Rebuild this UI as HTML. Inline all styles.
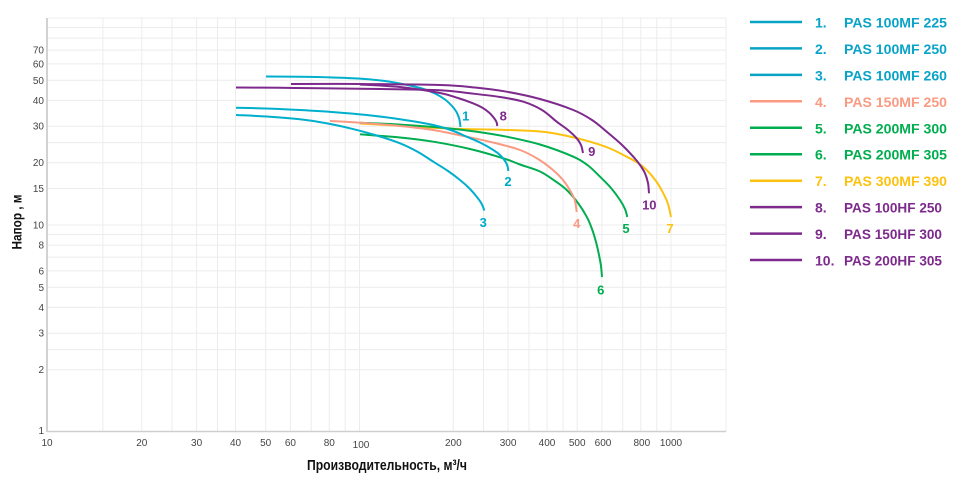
<!DOCTYPE html>
<html>
<head>
<meta charset="utf-8">
<style>
html,body{margin:0;padding:0;background:#fff;}
body{width:967px;height:484px;overflow:hidden;}
svg{display:block;}
text{font-family:"Liberation Sans","DejaVu Sans",sans-serif;}
.tk{font-size:10px;fill:#444;}
.lb{font-size:13px;font-weight:bold;text-anchor:middle;}
.lg{font-size:14px;font-weight:bold;}
</style>
</head>
<body>
<svg id="chart" width="967" height="484" viewBox="0 0 967 484" xmlns="http://www.w3.org/2000/svg">
  <!-- grid -->
  <g stroke="#ececec" stroke-width="1" fill="none">
    <line x1="48" y1="18" x2="726" y2="18"/>
    <line x1="48" y1="27.5" x2="726" y2="27.5"/>
    <line x1="48" y1="38.1" x2="726" y2="38.1"/>
    <line x1="48" y1="50.1" x2="726" y2="50.1"/>
    <line x1="48" y1="63.9" x2="726" y2="63.9"/>
    <line x1="48" y1="80.3" x2="726" y2="80.3"/>
    <line x1="48" y1="100.4" x2="726" y2="100.4"/>
    <line x1="48" y1="126.2" x2="726" y2="126.2"/>
    <line x1="48" y1="142.6" x2="726" y2="142.6"/>
    <line x1="48" y1="162.7" x2="726" y2="162.7"/>
    <line x1="48" y1="188.5" x2="726" y2="188.5"/>
    <line x1="48" y1="225" x2="726" y2="225"/>
    <line x1="48" y1="234.5" x2="726" y2="234.5"/>
    <line x1="48" y1="245.1" x2="726" y2="245.1"/>
    <line x1="48" y1="257.1" x2="726" y2="257.1"/>
    <line x1="48" y1="270.9" x2="726" y2="270.9"/>
    <line x1="48" y1="287.3" x2="726" y2="287.3"/>
    <line x1="48" y1="307.4" x2="726" y2="307.4"/>
    <line x1="48" y1="333.2" x2="726" y2="333.2"/>
    <line x1="48" y1="349.6" x2="726" y2="349.6"/>
    <line x1="48" y1="369.7" x2="726" y2="369.7"/>

    <line x1="102.9" y1="18" x2="102.9" y2="432"/>
    <line x1="141.8" y1="18" x2="141.8" y2="432"/>
    <line x1="172" y1="18" x2="172" y2="432"/>
    <line x1="196.6" y1="18" x2="196.6" y2="432"/>
    <line x1="217.5" y1="18" x2="217.5" y2="432"/>
    <line x1="235.5" y1="18" x2="235.5" y2="432"/>
    <line x1="265.7" y1="18" x2="265.7" y2="432"/>
    <line x1="290.4" y1="18" x2="290.4" y2="432"/>
    <line x1="311.2" y1="18" x2="311.2" y2="432"/>
    <line x1="329.3" y1="18" x2="329.3" y2="432"/>
    <line x1="345.2" y1="18" x2="345.2" y2="432"/>
    <line x1="359.5" y1="18" x2="359.5" y2="432"/>
    <line x1="453.3" y1="18" x2="453.3" y2="432"/>
    <line x1="483.5" y1="18" x2="483.5" y2="432"/>
    <line x1="508.1" y1="18" x2="508.1" y2="432"/>
    <line x1="529" y1="18" x2="529" y2="432"/>
    <line x1="547" y1="18" x2="547" y2="432"/>
    <line x1="563" y1="18" x2="563" y2="432"/>
    <line x1="577.2" y1="18" x2="577.2" y2="432"/>
    <line x1="601.9" y1="18" x2="601.9" y2="432"/>
    <line x1="622.7" y1="18" x2="622.7" y2="432"/>
    <line x1="640.8" y1="18" x2="640.8" y2="432"/>
    <line x1="656.7" y1="18" x2="656.7" y2="432"/>
    <line x1="671" y1="18" x2="671" y2="432"/>
    <line x1="726" y1="18" x2="726" y2="432"/>
  </g>
  <!-- axes -->
  <line x1="47" y1="18" x2="47" y2="432" stroke="#c4c4c4" stroke-width="1.5"/>
  <line x1="47" y1="431.5" x2="726" y2="431.5" stroke="#cfcfcf" stroke-width="1.5"/>

  <!-- y tick labels -->
  <g class="tk" text-anchor="end">
    <text x="44" y="53.6">70</text>
    <text x="44" y="67.4">60</text>
    <text x="44" y="83.8">50</text>
    <text x="44" y="103.9">40</text>
    <text x="44" y="129.7">30</text>
    <text x="44" y="166.2">20</text>
    <text x="44" y="192">15</text>
    <text x="44" y="228.5">10</text>
    <text x="44" y="248.6">8</text>
    <text x="44" y="274.4">6</text>
    <text x="44" y="290.8">5</text>
    <text x="44" y="310.9">4</text>
    <text x="44" y="336.7">3</text>
    <text x="44" y="373.2">2</text>
    <text x="44" y="434">1</text>
  </g>
  <!-- x tick labels -->
  <g class="tk" text-anchor="middle">
    <text x="47" y="446">10</text>
    <text x="141.8" y="446">20</text>
    <text x="196.6" y="446">30</text>
    <text x="235.5" y="446">40</text>
    <text x="265.7" y="446">50</text>
    <text x="290.4" y="446">60</text>
    <text x="329.3" y="446">80</text>
    <text x="361" y="448">100</text>
    <text x="453.3" y="446">200</text>
    <text x="508.1" y="446">300</text>
    <text x="547" y="446">400</text>
    <text x="577.2" y="446">500</text>
    <text x="603" y="446">600</text>
    <text x="641.8" y="446">800</text>
    <text x="671" y="446">1000</text>
  </g>

  <!-- axis titles -->
  <text x="387" y="470" font-size="15" font-weight="bold" fill="#111" text-anchor="middle" textLength="160" lengthAdjust="spacingAndGlyphs">Производительность, м³/ч</text>
  <text transform="translate(21.5,222) rotate(-90)" font-size="14" font-weight="bold" fill="#111" text-anchor="middle" textLength="55" lengthAdjust="spacingAndGlyphs">Напор , м</text>

  <!-- curves -->
  <g id="curves" fill="none" stroke-width="2" stroke-linejoin="round" stroke-linecap="butt">
    <polyline stroke="#fdc20f" points="360,123.5 400,125.8 453,128.8 500,129.8 540,131.5 565,135.5 590,141.7 610,148.5 626.7,156.7 638,163 646.7,170 656,181 663.3,193.3 668,204 671,217"/>
    <polyline stroke="#00ad4f" points="360,122.7 400,124.6 440,127.5 475,131.5 506.7,136.7 540,144.5 573.3,156.7 588,165.5 600,176.7 611,188 620,200 625,209 627.3,217"/>
    <polyline stroke="#00ad4f" points="360,134.3 400,137.5 433.3,141.7 470,149 503.3,158.3 520,164.5 540,171.5 555,181 566.7,190 578,203 586.7,216.7 592,229 596,242 599,255 601,266 602,277"/>
    <polyline stroke="#f99a82" points="330,121 360,122.7 400,126 433,130 466.7,136.7 495,143 520,150 538,159 553,170 563,180 571,192 575,201 576.7,212"/>
    <polyline stroke="#00afcc" points="266,76.5 300,76.8 330,77.4 360,78.6 385,81 405,84.5 422,88.5 435,93.5 445,99.5 452,106 456.5,112 459.3,119 460.5,127"/>
    <polyline stroke="#00afcc" points="236,107.7 270,108.6 300,110 335,112.2 366.7,115 400,119.3 433.3,125 452,130.5 466.7,136.7 481,143 493.3,150 500,155 505,161 507.5,166 508.3,171"/>
    <polyline stroke="#00afcc" points="236,115 270,116.7 300,119.3 325,123 350,128.3 375,135 400,143.3 418,152 433.3,161.7 448,171 460,180 469,188 476.7,196.7 481.5,203.5 484.3,210.5"/>
    <polyline stroke="#7d2a8c" points="360,84.5 400,87 440,93 458,98 473,103.3 482,107.5 489,112.5 494,118 496.5,122 497.3,126"/>
    <polyline stroke="#7d2a8c" points="236,87.5 280,87.8 320,88.3 380,89 440,90.2 470,93.3 500,97 523.3,101.7 542,110 556.7,121.7 568,130 576.7,138.3 581,145 583,153"/>
    <polyline stroke="#7d2a8c" points="291,84 360,84 440,85 475,87.5 506.7,91.7 540,99 573.3,110 592,120 606.7,131.7 621,144 633.3,156.7 640,165 645,173.3 648,183 649,193.3"/>
  </g>

  <!-- curve labels -->
  <text class="lb" x="465.7" y="120.5" fill="#00a9c9">1</text>
  <text class="lb" x="508" y="186" fill="#00a9c9">2</text>
  <text class="lb" x="483.3" y="227" fill="#00a9c9">3</text>
  <text class="lb" x="576.7" y="227.8" fill="#f99a82">4</text>
  <text class="lb" x="626" y="232.8" fill="#00ad4f">5</text>
  <text class="lb" x="600.7" y="294.5" fill="#00ad4f">6</text>
  <text class="lb" x="670" y="232.8" fill="#fdc20f">7</text>
  <text class="lb" x="503.3" y="120.5" fill="#7d2a8c">8</text>
  <text class="lb" x="591.7" y="156.2" fill="#7d2a8c">9</text>
  <text class="lb" x="649.3" y="209.5" fill="#7d2a8c">10</text>

  <!-- legend -->
  <g stroke-width="2.5">
    <line x1="750" y1="22" x2="802" y2="22" stroke="#0aa3c8"/>
    <line x1="750" y1="48.4" x2="802" y2="48.4" stroke="#0aa3c8"/>
    <line x1="750" y1="74.9" x2="802" y2="74.9" stroke="#0aa3c8"/>
    <line x1="750" y1="101.3" x2="802" y2="101.3" stroke="#f99a82"/>
    <line x1="750" y1="127.8" x2="802" y2="127.8" stroke="#00ad4f"/>
    <line x1="750" y1="154.2" x2="802" y2="154.2" stroke="#00ad4f"/>
    <line x1="750" y1="180.7" x2="802" y2="180.7" stroke="#fdc20f"/>
    <line x1="750" y1="207.1" x2="802" y2="207.1" stroke="#7d2a8c"/>
    <line x1="750" y1="233.6" x2="802" y2="233.6" stroke="#7d2a8c"/>
    <line x1="750" y1="260" x2="802" y2="260" stroke="#7d2a8c"/>
  </g>
  <g class="lg">
    <text x="815" y="27.5" fill="#0aa3c8">1.</text>
    <text x="844" y="27.5" fill="#0aa3c8" textLength="103" lengthAdjust="spacingAndGlyphs">PAS 100MF 225</text>
    <text x="815" y="53.9" fill="#0aa3c8">2.</text>
    <text x="844" y="53.9" fill="#0aa3c8" textLength="103" lengthAdjust="spacingAndGlyphs">PAS 100MF 250</text>
    <text x="815" y="80.4" fill="#0aa3c8">3.</text>
    <text x="844" y="80.4" fill="#0aa3c8" textLength="103" lengthAdjust="spacingAndGlyphs">PAS 100MF 260</text>
    <text x="815" y="106.8" fill="#f99a82">4.</text>
    <text x="844" y="106.8" fill="#f99a82" textLength="103" lengthAdjust="spacingAndGlyphs">PAS 150MF 250</text>
    <text x="815" y="133.3" fill="#00ad4f">5.</text>
    <text x="844" y="133.3" fill="#00ad4f" textLength="103" lengthAdjust="spacingAndGlyphs">PAS 200MF 300</text>
    <text x="815" y="159.7" fill="#00ad4f">6.</text>
    <text x="844" y="159.7" fill="#00ad4f" textLength="103" lengthAdjust="spacingAndGlyphs">PAS 200MF 305</text>
    <text x="815" y="186.2" fill="#fdc20f">7.</text>
    <text x="844" y="186.2" fill="#fdc20f" textLength="103" lengthAdjust="spacingAndGlyphs">PAS 300MF 390</text>
    <text x="815" y="212.6" fill="#7d2a8c">8.</text>
    <text x="844" y="212.6" fill="#7d2a8c" textLength="98" lengthAdjust="spacingAndGlyphs">PAS 100HF 250</text>
    <text x="815" y="239.1" fill="#7d2a8c">9.</text>
    <text x="844" y="239.1" fill="#7d2a8c" textLength="98" lengthAdjust="spacingAndGlyphs">PAS 150HF 300</text>
    <text x="815" y="265.5" fill="#7d2a8c">10.</text>
    <text x="844" y="265.5" fill="#7d2a8c" textLength="98" lengthAdjust="spacingAndGlyphs">PAS 200HF 305</text>
  </g>
</svg>
<script>
(function(){
  try{
    var NS="http://www.w3.org/2000/svg";
    var g=document.getElementById("curves");
    var pls=Array.prototype.slice.call(g.getElementsByTagName("polyline"));
    pls.forEach(function(pl){
      var pts=pl.getAttribute("points").trim().split(/\s+/).map(function(s){var a=s.split(",");return [parseFloat(a[0]),parseFloat(a[1])];});
      if(pts.length<3) return;
      var d="M"+pts[0][0]+","+pts[0][1];
      for(var i=0;i<pts.length-1;i++){
        var p0=pts[i-1]||pts[i], p1=pts[i], p2=pts[i+1], p3=pts[i+2]||pts[i+1];
        var c1x=p1[0]+(p2[0]-p0[0])/6, c1y=p1[1]+(p2[1]-p0[1])/6;
        var c2x=p2[0]-(p3[0]-p1[0])/6, c2y=p2[1]-(p3[1]-p1[1])/6;
        d+=" C"+c1x.toFixed(2)+","+c1y.toFixed(2)+" "+c2x.toFixed(2)+","+c2y.toFixed(2)+" "+p2[0]+","+p2[1];
      }
      var p=document.createElementNS(NS,"path");
      p.setAttribute("d",d);
      p.setAttribute("stroke",pl.getAttribute("stroke"));
      g.insertBefore(p,pl);
      g.removeChild(pl);
    });
  }catch(e){}
})();
</script>
</body>
</html>
